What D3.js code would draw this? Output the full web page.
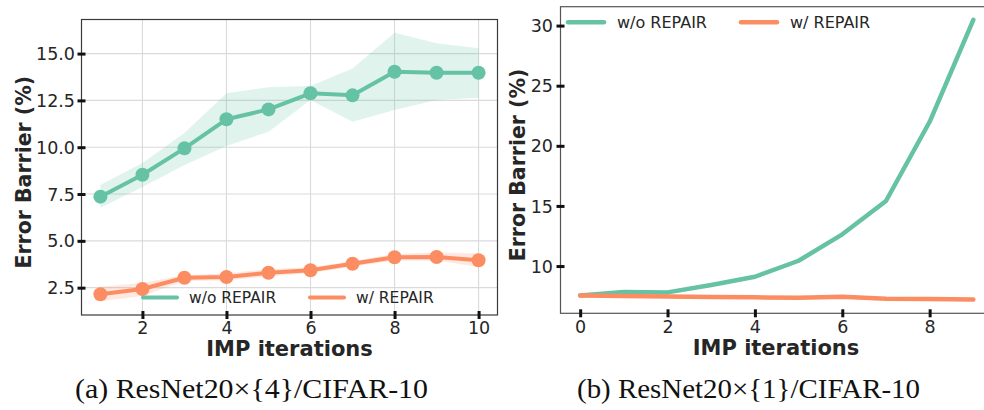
<!DOCTYPE html>
<html>
<head>
<meta charset="utf-8">
<script src="https://cdn.jsdelivr.net/npm/d3@7/dist/d3.min.js"></script>
<style>
  html, body { margin: 0; padding: 0; background: #fff; }
  svg { display: block; font-family: "DejaVu Sans", sans-serif; }
</style>
</head>
<body>
<svg id="fig" width="984" height="410"></svg>
<script>
// ---- Panel (a): ResNet20x{4}/CIFAR-10, mean with spread band ----
const iterA = [1, 2, 3, 4, 5, 6, 7, 8, 9, 10];
const noRepairA = [7.36, 8.53, 9.94, 11.49, 12.02, 12.88, 12.77, 14.03, 13.98, 13.98];
const noRepairALo = [6.77, 7.87, 9.05, 10.07, 10.83, 12.52, 11.36, 11.99, 12.52, 12.64];
const noRepairAHi = [7.98, 9.16, 10.76, 12.88, 13.20, 13.27, 14.21, 16.11, 15.55, 15.28];
const repairA = [2.15, 2.43, 3.03, 3.07, 3.30, 3.43, 3.78, 4.12, 4.14, 3.96];
const repairALo = [1.78, 2.05, 2.85, 2.90, 3.10, 3.28, 3.62, 3.95, 3.95, 3.60];
const repairAHi = [2.55, 2.75, 3.18, 3.25, 3.50, 3.58, 3.92, 4.30, 4.38, 4.34];
const xTicksA = [2, 4, 6, 8, 10];
const yTicksA = [2.5, 5.0, 7.5, 10.0, 12.5, 15.0];

// ---- Panel (b): ResNet20x{1}/CIFAR-10 ----
const iterB = [0, 1, 2, 3, 4, 5, 6, 7, 8, 9];
const noRepairB = [7.56, 7.84, 7.81, 8.42, 9.11, 10.44, 12.64, 15.41, 22.0, 30.47];
const repairB = [7.56, 7.50, 7.46, 7.42, 7.40, 7.36, 7.45, 7.28, 7.25, 7.22];
const xTicksB = [0, 2, 4, 6, 8];
const yTicksB = [10, 15, 20, 25, 30];

const seriesNames = ["w/o REPAIR", "w/ REPAIR"];
const seriesColors = ["#66c2a5", "#fc8d62"];
const captions = ["(a) ResNet20\u00d7{4}/CIFAR-10", "(b) ResNet20\u00d7{1}/CIFAR-10"];

const svg = d3.select("#fig");
const tickColor = "#262626";

function styleAxis(g, orient) {
  g.select(".domain").remove();
  g.selectAll(".tick line")
    .attr("stroke", "#111").attr("stroke-width", 3)
    .each(function () {
      const l = d3.select(this);
      if (orient === "left") l.attr("x1", -4).attr("x2", 4);
      else l.attr("y1", -4).attr("y2", 4);
    });
  g.selectAll(".tick text")
    .attr("fill", tickColor)
    .style("font-size", "17.5px")
    .style("font-family", "DejaVu Sans, sans-serif");
}

// ================= Panel (a) =================
{
  const L = 81.5, R = 497.5, T = 19.5, B = 315;
  const x = d3.scaleLinear().domain([0.55, 10.45]).range([L, R]);
  const y = d3.scaleLinear().domain([1.04, 16.82]).range([B, T]);
  const g = svg.append("g");

  // grid
  g.append("g").selectAll("line").data(xTicksA).join("line")
    .attr("x1", d => x(d)).attr("x2", d => x(d)).attr("y1", T).attr("y2", B)
    .attr("stroke", "#dadada").attr("stroke-width", 1.1);
  g.append("g").selectAll("line").data(yTicksA).join("line")
    .attr("y1", d => y(d)).attr("y2", d => y(d)).attr("x1", L).attr("x2", R)
    .attr("stroke", "#dadada").attr("stroke-width", 1.1);

  const bands = [[noRepairALo, noRepairAHi], [repairALo, repairAHi]];
  const means = [noRepairA, repairA];
  bands.forEach((b, i) => {
    const area = d3.area().x((d, k) => x(iterA[k])).y0((d, k) => y(b[0][k])).y1((d, k) => y(b[1][k]));
    g.append("path").datum(iterA).attr("d", area)
      .attr("fill", seriesColors[i]).attr("fill-opacity", 0.2);
  });
  means.forEach((m, i) => {
    const line = d3.line().x((d, k) => x(iterA[k])).y(d => y(d));
    g.append("path").datum(m).attr("d", line)
      .attr("fill", "none").attr("stroke", seriesColors[i])
      .attr("stroke-width", 4).attr("stroke-linejoin", "round");
    g.append("g").selectAll("circle").data(m).join("circle")
      .attr("cx", (d, k) => x(iterA[k])).attr("cy", d => y(d)).attr("r", 7)
      .attr("fill", seriesColors[i]);
  });

  // frame
  g.append("rect").attr("x", L).attr("y", T).attr("width", R - L).attr("height", B - T)
    .attr("fill", "none").attr("stroke", "#3a3a3a").attr("stroke-width", 1.2);

  // axes
  const ax = g.append("g").attr("transform", `translate(0,${B})`)
    .call(d3.axisBottom(x).tickValues(xTicksA).tickFormat(d3.format("d")).tickSize(0).tickPadding(7));
  styleAxis(ax, "bottom");
  ax.selectAll(".tick text").attr("y", 7).attr("dy", "0.71em");
  const ay = g.append("g").attr("transform", `translate(${L},0)`)
    .call(d3.axisLeft(y).tickValues(yTicksA).tickFormat(d3.format(".1f")).tickSize(0));
  styleAxis(ay, "left");
  ay.selectAll(".tick text").attr("x", -6.5).attr("dy", "0.35em");

  // axis titles
  g.append("text").attr("x", (L + R) / 2).attr("y", 356).attr("text-anchor", "middle")
    .style("font-weight", "bold").style("font-size", "21px").attr("fill", tickColor)
    .text("IMP iterations");
  g.append("text").attr("transform", `translate(31,${(T + B) / 2 + 5}) rotate(-90)`)
    .attr("text-anchor", "middle")
    .style("font-weight", "bold").style("font-size", "20.5px").attr("fill", tickColor)
    .text("Error Barrier (%)");

  // legend
  const lg = g.append("g");
  const lgX = [143, 310];
  seriesNames.forEach((n, i) => {
    lg.append("line").attr("x1", lgX[i]).attr("x2", lgX[i] + 34).attr("y1", 297.5).attr("y2", 297.5)
      .attr("stroke", seriesColors[i]).attr("stroke-width", 4).attr("stroke-linecap", "round");
    lg.append("text").attr("x", lgX[i] + 46).attr("y", 297.5).attr("dy", "0.35em")
      .style("font-size", "15.5px").attr("fill", tickColor).text(n);
  });
}

// ================= Panel (b) =================
{
  const L = 560.5, R = 993, T = 6.7, B = 313.3;
  const x = d3.scaleLinear().domain([-0.45, 9.45]).range([L, R]);
  const y = d3.scaleLinear().domain([6.07, 31.57]).range([B, T]);
  const g = svg.append("g");

  [noRepairB, repairB].forEach((m, i) => {
    const line = d3.line().x((d, k) => x(iterB[k])).y(d => y(d));
    g.append("path").datum(m).attr("d", line)
      .attr("fill", "none").attr("stroke", seriesColors[i])
      .attr("stroke-width", 4.5).attr("stroke-linejoin", "round").attr("stroke-linecap", "round");
  });

  g.append("rect").attr("x", L).attr("y", T).attr("width", R - L).attr("height", B - T)
    .attr("fill", "none").attr("stroke", "#555").attr("stroke-width", 1.2);

  const ax = g.append("g").attr("transform", `translate(0,${B})`)
    .call(d3.axisBottom(x).tickValues(xTicksB).tickFormat(d3.format("d")).tickSize(0));
  styleAxis(ax, "bottom");
  ax.selectAll(".tick text").attr("y", 7).attr("dy", "0.71em");
  const ay = g.append("g").attr("transform", `translate(${L},0)`)
    .call(d3.axisLeft(y).tickValues(yTicksB).tickFormat(d3.format("d")).tickSize(0));
  styleAxis(ay, "left");
  ay.selectAll(".tick text").attr("x", -7.5).attr("dy", "0.35em");

  g.append("text").attr("x", 776).attr("y", 355).attr("text-anchor", "middle")
    .style("font-weight", "bold").style("font-size", "21px").attr("fill", tickColor)
    .text("IMP iterations");
  g.append("text").attr("transform", `translate(525,${165}) rotate(-90)`)
    .attr("text-anchor", "middle")
    .style("font-weight", "bold").style("font-size", "20.5px").attr("fill", tickColor)
    .text("Error Barrier (%)");

  const lgX = [568, 741];
  seriesNames.forEach((n, i) => {
    g.append("line").attr("x1", lgX[i]).attr("x2", lgX[i] + 36).attr("y1", 22.3).attr("y2", 22.3)
      .attr("stroke", seriesColors[i]).attr("stroke-width", 4.5).attr("stroke-linecap", "round");
    g.append("text").attr("x", lgX[i] + 49).attr("y", 22.3).attr("dy", "0.35em")
      .style("font-size", "16px").attr("fill", tickColor).text(n);
  });
}

// ---- captions ----
const capX = [251.5, 748.5];
captions.forEach((c, i) => {
  svg.append("text").attr("x", capX[i]).attr("y", 398).attr("text-anchor", "middle")
    .attr("textLength", i === 0 ? 353 : 343).attr("lengthAdjust", "spacingAndGlyphs")
    .style("font-family", "'Liberation Serif', 'DejaVu Serif', serif")
    .style("font-size", "27px").attr("fill", "#111").text(c);
});
</script>
</body>
</html>
